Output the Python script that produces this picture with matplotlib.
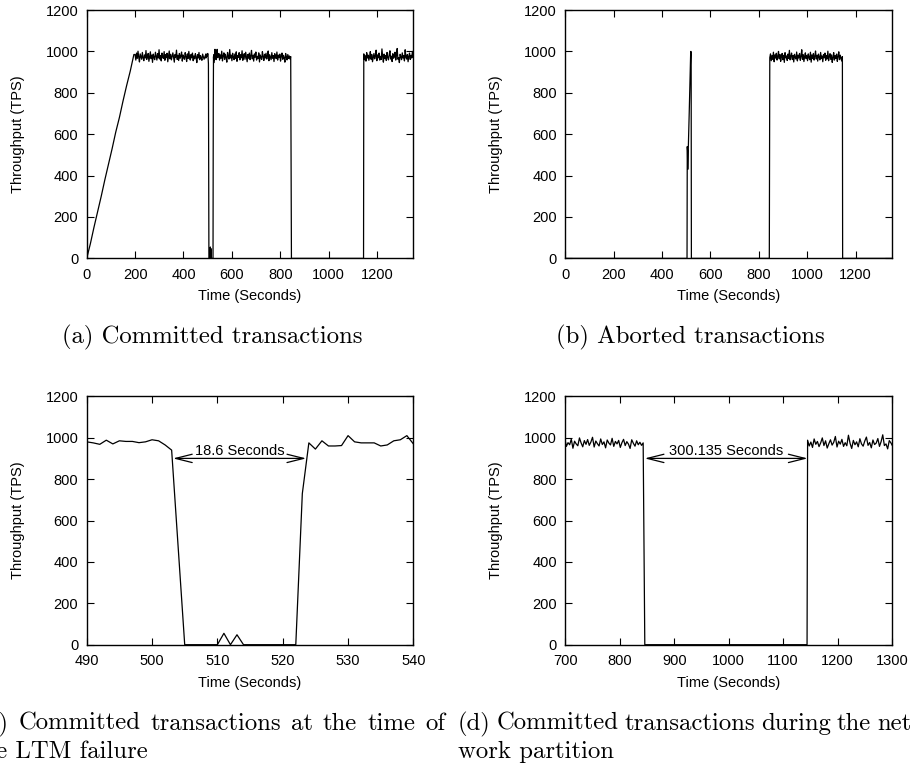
import numpy as np
import matplotlib
matplotlib.use("Agg")
import matplotlib.pyplot as plt

# ---- data ----
# ramp-up at the start, one point every 15 s
ramp_t = [0, 15, 30, 45, 60, 75, 90, 105, 120, 135, 150, 165, 180, 195]
ramp_v = [0, 70, 150, 225, 300, 380, 455, 530, 610, 680, 760, 835, 905, 985]

step = 3  # sampling of the long steady stretches (s)

# committed, 200..485 s
seg1_start = 200
seg1_v = [985, 958, 992, 966, 1001, 972, 949, 988, 975, 962,
          995, 970, 955, 983, 968, 1004, 961, 979, 990, 952,
          974, 998, 965, 982, 947, 987, 971, 960, 996, 976,
          958, 989, 968, 1008, 963, 980, 954, 992, 973, 966,
          999, 957, 984, 970, 991, 950, 978, 1002, 964, 986,
          959, 975, 993, 969, 948, 985, 972, 1006, 961, 981,
          956, 990, 967, 977, 997, 953, 983, 970, 962, 994,
          975, 951, 988, 966, 1000, 972, 958, 985, 969, 992,
          955, 978, 964, 989, 973, 946, 984, 968, 995, 960,
          980, 970, 957, 987, 974, 962]

# committed around the LTM failure, 1 s resolution
fine_t = [490, 491, 492, 493, 494, 495, 496, 497, 498, 499, 500, 501, 502, 503,
          505, 506, 507, 508, 509, 510, 511, 512, 513, 514, 515, 516, 517, 518,
          519, 520, 521, 522, 523, 524, 525, 526, 527, 528, 529, 530, 531, 532,
          533, 534, 535, 536, 537, 538, 539, 540]
fine_v = [980, 975, 968, 988, 970, 985, 982, 982, 976, 980, 990, 985, 965, 940,
          0, 0, 0, 0, 0, 0, 55, 0, 48, 0, 0, 0, 0, 0,
          0, 0, 0, 0, 730, 975, 945, 985, 960, 960, 962, 1010, 980, 975,
          975, 975, 960, 965, 985, 990, 1010, 970]

# committed, 543..843 s
seg2_start = 543
seg2_v = [972, 990, 958, 983, 967, 1001, 954, 979, 993, 961,
          986, 970, 948, 995, 975, 963, 1009, 968, 982, 955,
          991, 973, 960, 987, 966, 998, 952, 980, 971, 994,
          959, 984, 969, 1003, 957, 977, 989, 962, 996, 974,
          950, 985, 967, 992, 960, 978, 1005, 964, 981, 953,
          988, 972, 997, 958, 976, 966, 993, 949, 983, 970,
          961, 999, 975, 956, 986, 968, 991, 963, 979, 1002,
          955, 984, 971, 960, 994, 967, 980, 951, 989, 974,
          965, 997, 958, 982, 970, 987, 953, 976, 992, 962,
          981, 969, 948, 990, 973, 959, 985, 966, 978, 963,
          975]

# network partition: nothing committed
gap_t = [846, 1144]
gap_v = [0, 0]

# committed, 1145..1349 s
seg3_start = 1145
seg3_v = [988, 960, 979, 953, 994, 968, 982, 957, 975, 999,
          962, 985, 950, 971, 990, 964, 978, 1006, 955, 983,
          969, 992, 958, 976, 961, 1012, 973, 948, 987, 966,
          980, 956, 995, 970, 959, 984, 1003, 963, 977, 951,
          989, 967, 974, 996, 958, 981, 1014, 962, 970, 946,
          986, 975, 960, 993, 968, 979, 954, 1008, 972, 963,
          985, 950, 976, 992, 961, 981, 968, 1000, 972]

# aborted transactions
ab_spike_t = [0, 503, 504, 505, 506, 512, 518, 519, 520, 521, 843]
ab_spike_v = [0, 0, 540, 520, 430, 700, 990, 1000, 985, 0, 0]
ab_seg_start = 845
ab_seg_v = [970, 988, 955, 979, 962, 996, 950, 983, 968, 991,
            958, 976, 1000, 964, 985, 952, 973, 990, 960, 981,
            947, 994, 969, 978, 956, 987, 966, 1005, 959, 975,
            992, 961, 980, 949, 986, 971, 963, 997, 954, 982,
            968, 990, 957, 975, 1008, 962, 984, 951, 977, 993,
            965, 979, 955, 988, 970, 960, 996, 948, 983, 967,
            990, 958, 976, 1002, 963, 981, 953, 987, 972, 959,
            995, 966, 978, 950, 985, 969, 992, 957, 980, 964,
            1001, 955, 975, 989, 961, 983, 947, 970, 994, 958,
            979, 966, 987, 952, 976, 998, 960, 982, 968, 954,
            975]
ab_tail_t = [1146, 1350]
ab_tail_v = [0, 0]

ltm_gap = (503.2, 523.6, "18.6 Seconds")
part_gap = (845.8, 1145.1, "300.135 Seconds")
arrow_y = 900


def seg(start, vals):
    return list(start + step * np.arange(len(vals))), list(vals)


s1t, s1v = seg(seg1_start, seg1_v)
s2t, s2v = seg(seg2_start, seg2_v)
s3t, s3v = seg(seg3_start, seg3_v)
com_t = ramp_t + s1t + fine_t + s2t + gap_t + s3t
com_v = ramp_v + s1v + fine_v + s2v + gap_v + s3v

abt, abv = seg(ab_seg_start, ab_seg_v)
abo_t = ab_spike_t + abt + ab_tail_t
abo_v = ab_spike_v + abv + ab_tail_v

# ---- figure ----
plt.rcParams["font.family"] = ["Liberation Sans", "DejaVu Sans"]
W, H = 912, 766
fig = plt.figure(figsize=(W / 100, H / 100), dpi=100)


def make_ax(left, top, xlim, xticks):
    ax = fig.add_axes([left / W, 1 - (top + 248.4) / H, 326.7 / W, 248.4 / H])
    ax.set_xlim(*xlim)
    ax.set_ylim(0, 1200)
    ax.set_xticks(xticks)
    ax.set_yticks(range(0, 1201, 200))
    ax.tick_params(direction="in", top=True, right=True, length=5, width=0.8,
                   labelsize=10.5, pad=6)
    ax.tick_params(axis="x", pad=7)
    for s in ax.spines.values():
        s.set_linewidth(1.0)
    ax.set_xlabel("Time (Seconds)", fontsize=10.5)
    ax.set_ylabel("Throughput (TPS)", fontsize=10.5)
    ax.xaxis.set_label_coords(0.5, -0.125)
    ax.yaxis.set_label_coords(-0.19, 0.5)
    return ax


ax_a = make_ax(86.7, 10, (0, 1350), range(0, 1201, 200))
ax_a.plot(com_t, com_v, color="black", lw=0.9)

ax_b = make_ax(565.3, 10, (0, 1350), range(0, 1201, 200))
ax_b.plot(abo_t, abo_v, color="black", lw=0.9)

ax_c = make_ax(86.7, 396.3, (490, 540), range(490, 541, 10))
ax_c.plot(com_t, com_v, color="black", lw=0.9)

ax_d = make_ax(565.3, 396.3, (700, 1300), range(700, 1301, 100))
ax_d.plot(com_t, com_v, color="black", lw=0.9)

for ax, (x0, x1, label) in [(ax_c, ltm_gap), (ax_d, part_gap)]:
    ax.annotate("", xy=(x0, arrow_y), xytext=(x1, arrow_y),
                arrowprops=dict(arrowstyle="<->,head_length=1.2,head_width=0.3",
                                color="black", lw=0.9, shrinkA=0, shrinkB=0))
    ax.text((x0 + x1) / 2, arrow_y + 18, label, ha="center", va="baseline",
            fontsize=10.5)

# captions (LaTeX-like serif, justified like the paper)
cap = dict(fontfamily="cmr10", fontsize=17.8, va="baseline")
fig.canvas.draw()
r = fig.canvas.get_renderer()


def width(s):
    t = fig.text(0, 0, s, **cap)
    w = t.get_window_extent(r).width
    t.remove()
    return w


def justified(words, x_left, x_right, y):
    ws = [width(w) for w in words]
    gap = (x_right - x_left - sum(ws)) / (len(words) - 1)
    x = x_left
    for word, wd in zip(words, ws):
        fig.text(x / W, 1 - y / H, word, ha="left", **cap)
        x += wd + gap


fig.text(212 / W, 1 - 343 / H, "(a) Committed transactions", ha="center", **cap)
fig.text(690 / W, 1 - 343 / H, "(b) Aborted transactions", ha="center", **cap)

words_c = "(c) Committed transactions at the time of".split()
justified(words_c, 9 - width("(c)"), 445, 730)
fig.text((15 - (width("the LTM") - width("LTM"))) / W, 1 - 758 / H,
         "the LTM failure", ha="left", **cap)

words_d = "(d) Committed transactions during the net".split()
justified(words_d, 458, 877 + width("net"), 730)
fig.text(458 / W, 1 - 758 / H, "work partition", ha="left", **cap)

fig.savefig("out.png", dpi=100)
